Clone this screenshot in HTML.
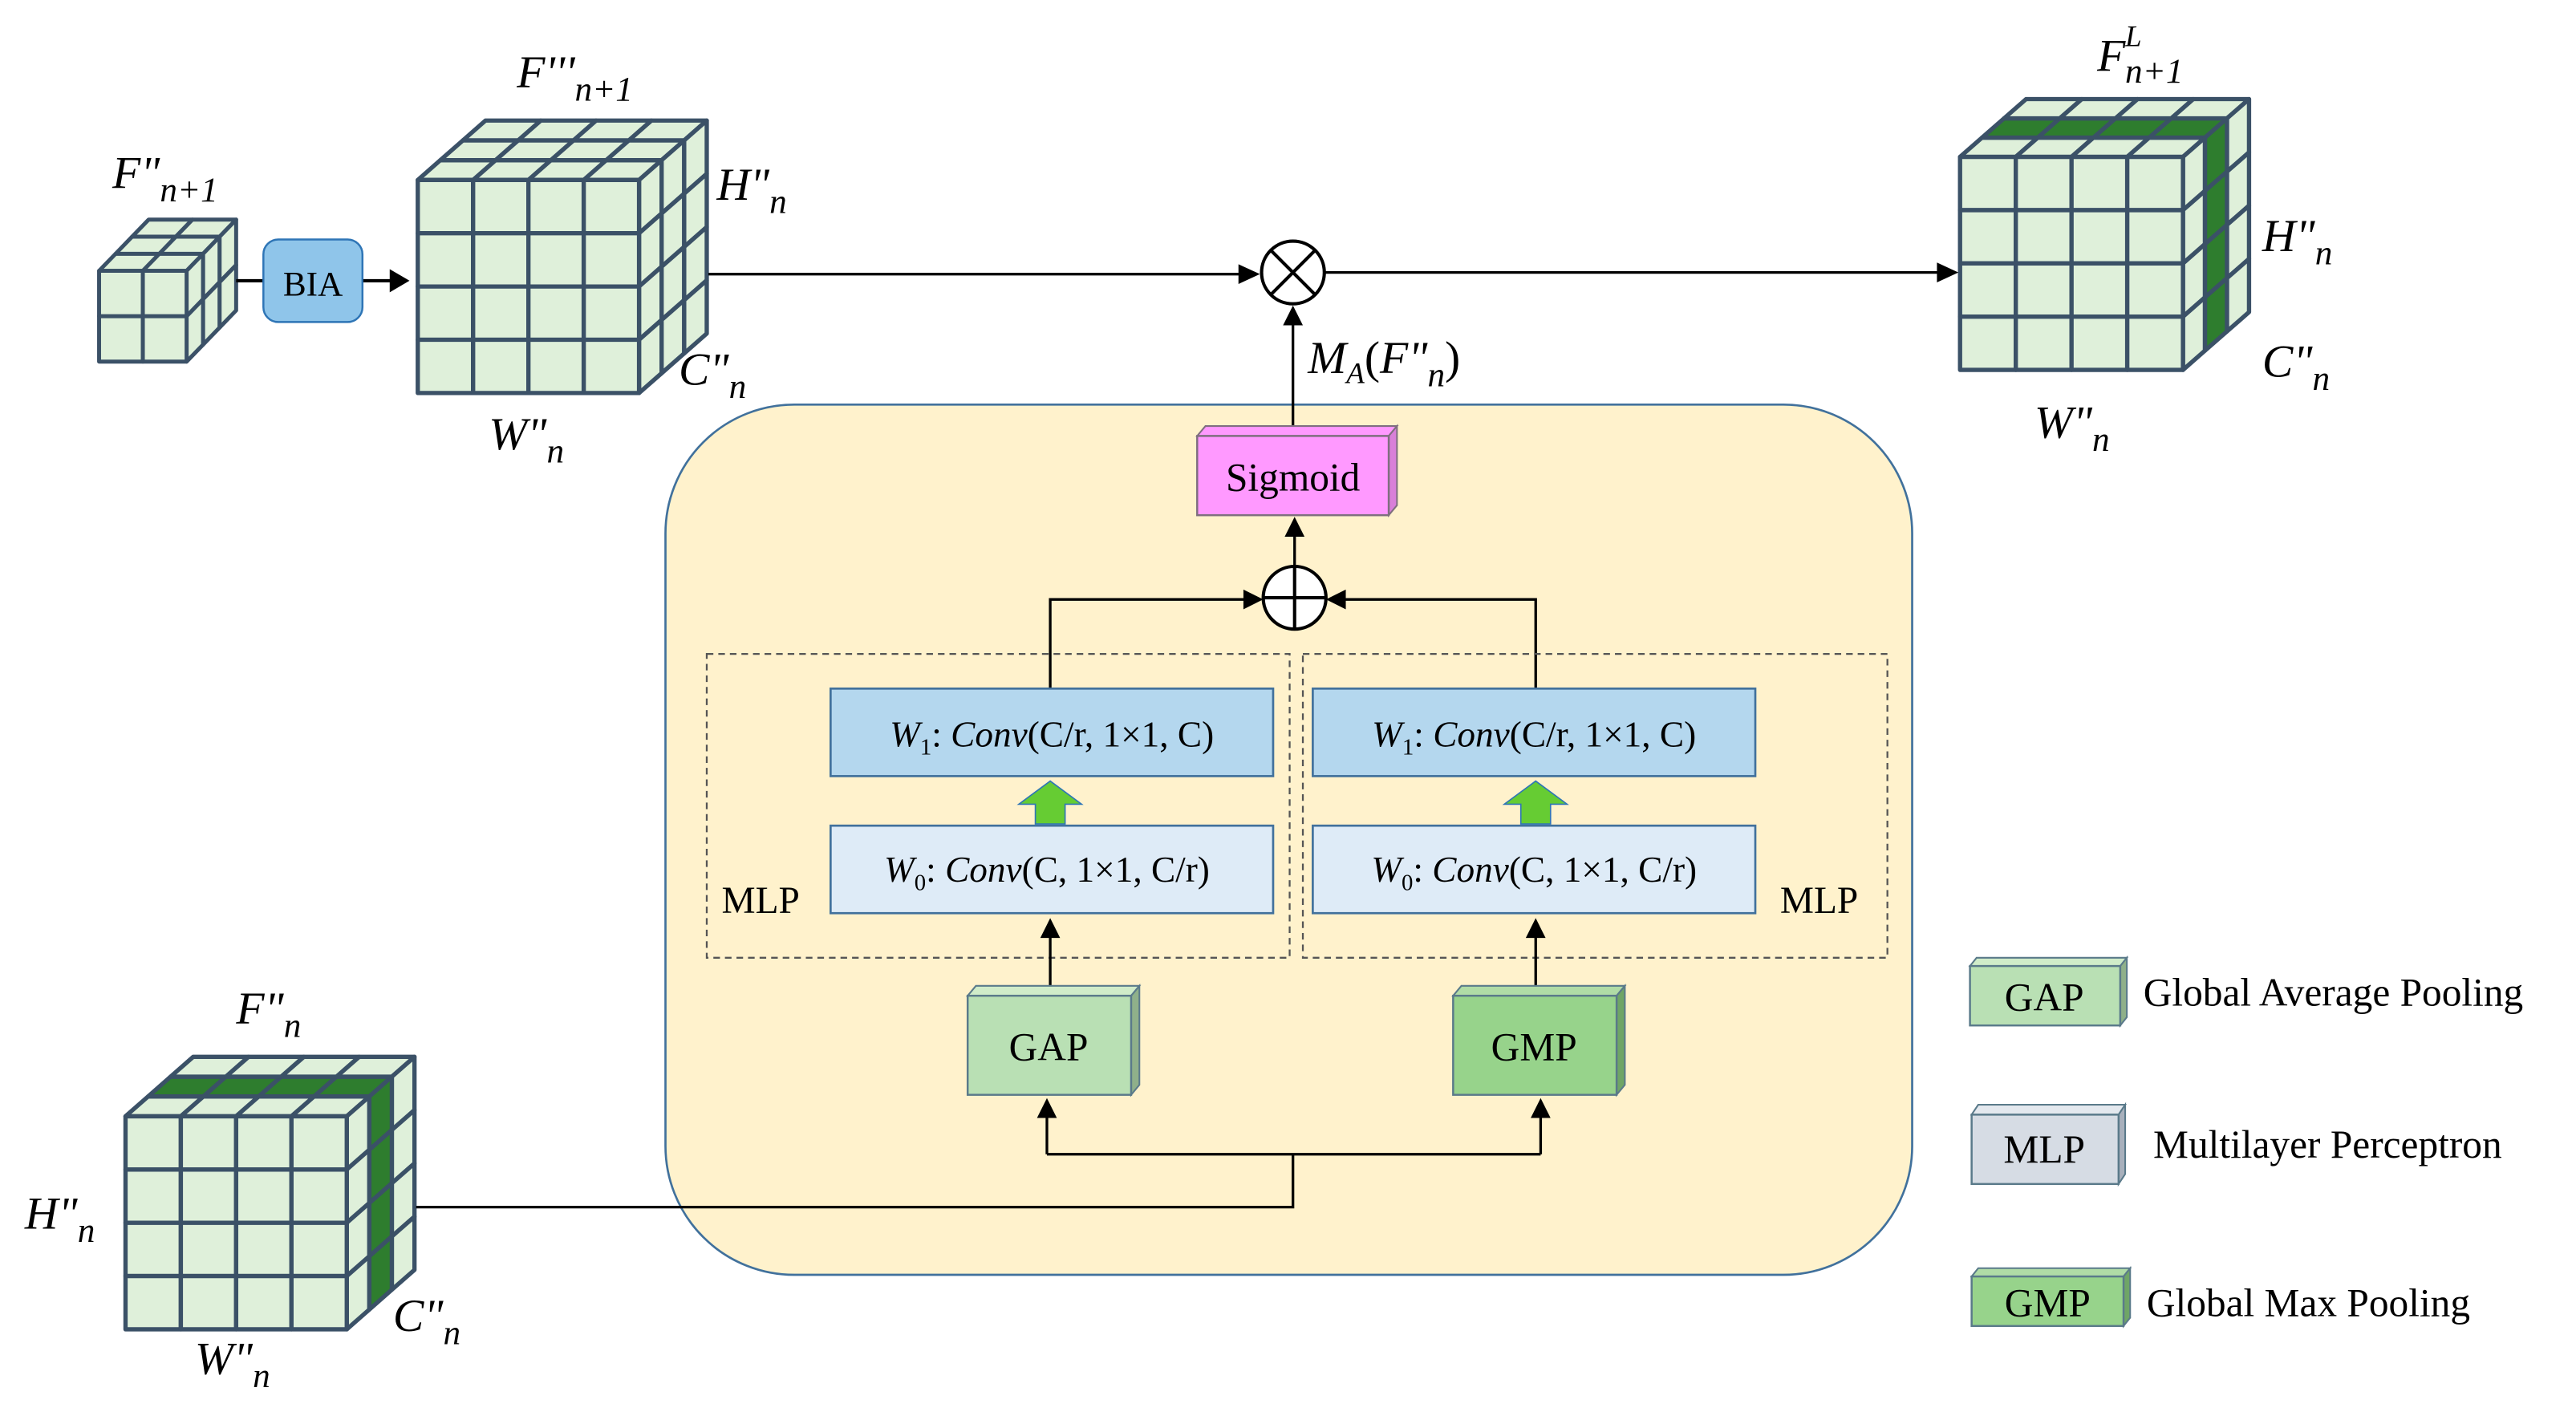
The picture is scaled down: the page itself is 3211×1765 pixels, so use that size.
<!DOCTYPE html>
<html><head><meta charset="utf-8"><style>
html,body{margin:0;padding:0;background:#fff;}
svg{display:block;}
svg, svg text, svg tspan{font-family:"Liberation Serif","Times New Roman","DejaVu Serif",serif;}
text{fill:#000;}
.it{font-style:italic;}
</style></head><body>
<svg id="s" width="3211" height="1765" viewBox="0 0 1560 857.5" xmlns="http://www.w3.org/2000/svg" font-family="Liberation Serif, Times New Roman, DejaVu Serif, serif">
<rect x="0" y="0" width="1560" height="857.5" fill="#fff"/>
<rect x="403" y="245" width="755" height="527" rx="78" fill="#fff2cc" stroke="#41719c" stroke-width="1.3"/>
<g id="cubes"></g>

<line x1="143" y1="170" x2="160" y2="170" stroke="#000" stroke-width="2"/>
<rect x="159.5" y="145" width="60" height="50" rx="9" fill="#8fc5ea" stroke="#2e75b6" stroke-width="1.2"/>
<text x="189.5" y="179" font-size="21" text-anchor="middle">BIA</text>
<line x1="220" y1="170" x2="238" y2="170" stroke="#000" stroke-width="2"/>
<polygon points="248,170 236,163 236,177" fill="#000"/>
<line x1="429" y1="166" x2="752" y2="166" stroke="#000" stroke-width="1.6"/>
<polygon points="763,166 750,160 750,172" fill="#000"/>
<circle cx="783" cy="165" r="19" fill="#fff" stroke="#000" stroke-width="2"/>
<line x1="769.5" y1="151.5" x2="796.5" y2="178.5" stroke="#000" stroke-width="2"/>
<line x1="796.5" y1="151.5" x2="769.5" y2="178.5" stroke="#000" stroke-width="2"/>
<line x1="802" y1="165" x2="1175" y2="165" stroke="#000" stroke-width="1.6"/>
<polygon points="1186,165 1173,159 1173,171" fill="#000"/>
<line x1="783" y1="258" x2="783" y2="195" stroke="#000" stroke-width="1.6"/>
<polygon points="783,185 777,197 789,197" fill="#000"/>
<polygon points="725,264 730,258 846,258 841,264" fill="#ff99ff" stroke="#7f6f7f" stroke-width="1"/>
<polygon points="841,264 846,258 846,306 841,312" fill="#d97fd9" stroke="#7f6f7f" stroke-width="1"/>
<rect x="725" y="264" width="116" height="48" fill="#ff99ff" stroke="#7f6f7f" stroke-width="1.2"/>
<text x="783" y="297" font-size="24" text-anchor="middle">Sigmoid</text>
<line x1="784" y1="343" x2="784" y2="322" stroke="#000" stroke-width="1.6"/>
<polygon points="784,313 778,325 790,325" fill="#000"/>
<circle cx="784" cy="362" r="19" fill="#fff" stroke="#000" stroke-width="2"/>
<line x1="765" y1="362" x2="803" y2="362" stroke="#000" stroke-width="2"/>
<line x1="784" y1="343" x2="784" y2="381" stroke="#000" stroke-width="2"/>
<polyline points="636,417 636,363 755,363" fill="none" stroke="#000" stroke-width="1.6"/>
<polygon points="765,363 753,357 753,369" fill="#000"/>
<polyline points="930,417 930,363 813,363" fill="none" stroke="#000" stroke-width="1.6"/>
<polygon points="803,363 815,357 815,369" fill="#000"/>
<rect x="428" y="396" width="353" height="184" fill="none" stroke="#555" stroke-width="1.1" stroke-dasharray="4,3"/>
<rect x="789" y="396" width="354" height="184" fill="none" stroke="#555" stroke-width="1.1" stroke-dasharray="4,3"/>
<rect x="503" y="417" width="268" height="53" fill="#b4d7ee" stroke="#41719c" stroke-width="1.3"/>
<rect x="795" y="417" width="268" height="53" fill="#b4d7ee" stroke="#41719c" stroke-width="1.3"/>
<text x="637" y="452" font-size="22" text-anchor="middle"><tspan class="it">W</tspan><tspan font-size="14" dy="5">1</tspan><tspan dy="-5">: </tspan><tspan class="it">Conv</tspan>(C/r, 1×1, C)</text>
<text x="929" y="452" font-size="22" text-anchor="middle"><tspan class="it">W</tspan><tspan font-size="14" dy="5">1</tspan><tspan dy="-5">: </tspan><tspan class="it">Conv</tspan>(C/r, 1×1, C)</text>
<rect x="503" y="500" width="268" height="53" fill="#deebf7" stroke="#41719c" stroke-width="1.3"/>
<rect x="795" y="500" width="268" height="53" fill="#deebf7" stroke="#41719c" stroke-width="1.3"/>
<text x="634" y="534" font-size="22" text-anchor="middle"><tspan class="it">W</tspan><tspan font-size="14" dy="5">0</tspan><tspan dy="-5">: </tspan><tspan class="it">Conv</tspan>(C, 1×1, C/r)</text>
<text x="929" y="534" font-size="22" text-anchor="middle"><tspan class="it">W</tspan><tspan font-size="14" dy="5">0</tspan><tspan dy="-5">: </tspan><tspan class="it">Conv</tspan>(C, 1×1, C/r)</text>
<polygon points="636,473 617,487 627,487 627,499 645,499 645,487 655,487" fill="#66cc33" stroke="#2e75b6" stroke-width="0.8"/>
<polygon points="930,473 911,487 921,487 921,499 939,499 939,487 949,487" fill="#66cc33" stroke="#2e75b6" stroke-width="0.8"/>
<text x="437" y="553" font-size="23">MLP</text>
<text x="1078" y="553" font-size="23">MLP</text>
<line x1="636" y1="600" x2="636" y2="566" stroke="#000" stroke-width="1.6"/>
<polygon points="636,556 630,568 642,568" fill="#000"/>
<line x1="930" y1="600" x2="930" y2="566" stroke="#000" stroke-width="1.6"/>
<polygon points="930,556 924,568 936,568" fill="#000"/>
<polygon points="586,603 591,597 690,597 685,603" fill="#d0ecc9" stroke="#5a7a8a" stroke-width="1"/>
<polygon points="685,603 690,597 690,657 685,663" fill="#8fb08a" stroke="#5a7a8a" stroke-width="1"/>
<rect x="586" y="603" width="99" height="60" fill="#b9e0b4" stroke="#5a7a8a" stroke-width="1.2"/>
<text x="635" y="642" font-size="24" text-anchor="middle">GAP</text>
<polygon points="880,603 885,597 984,597 979,603" fill="#b0dca6" stroke="#5a7a8a" stroke-width="1"/>
<polygon points="979,603 984,597 984,657 979,663" fill="#6fa566" stroke="#5a7a8a" stroke-width="1"/>
<rect x="880" y="603" width="99" height="60" fill="#97d38b" stroke="#5a7a8a" stroke-width="1.2"/>
<text x="929" y="642" font-size="24" text-anchor="middle">GMP</text>
<polyline points="252,731 783,731 783,699" fill="none" stroke="#000" stroke-width="1.6"/>
<line x1="634" y1="699" x2="933" y2="699" stroke="#000" stroke-width="1.6"/>
<line x1="634" y1="699" x2="634" y2="676" stroke="#000" stroke-width="1.6"/>
<line x1="933" y1="699" x2="933" y2="676" stroke="#000" stroke-width="1.6"/>
<polygon points="634,665 628,677 640,677" fill="#000"/>
<polygon points="933,665 927,677 939,677" fill="#000"/>
<polygon points="1193,585 1197,580 1288,580 1284,585" fill="#d0ecc9" stroke="#5a7a8a" stroke-width="1"/>
<polygon points="1284,585 1288,580 1288,616 1284,621" fill="#8fb08a" stroke="#5a7a8a" stroke-width="1"/>
<rect x="1193" y="585" width="91" height="36" fill="#b9e0b4" stroke="#5a7a8a" stroke-width="1.2"/>
<text x="1238" y="612" font-size="24" text-anchor="middle">GAP</text>
<text x="1298" y="609" font-size="24">Global Average Pooling</text>
<polygon points="1194,675 1198,669 1287,669 1283,675" fill="#e3e8ee" stroke="#5a7a8a" stroke-width="1"/>
<polygon points="1283,675 1287,669 1287,711 1283,717" fill="#a8b0bc" stroke="#5a7a8a" stroke-width="1"/>
<rect x="1194" y="675" width="89" height="42" fill="#d6dce4" stroke="#5a7a8a" stroke-width="1.2"/>
<text x="1238" y="704" font-size="24" text-anchor="middle">MLP</text>
<text x="1304" y="701" font-size="24">Multilayer Perceptron</text>
<polygon points="1194,773 1198,768 1290,768 1286,773" fill="#b0dca6" stroke="#5a7a8a" stroke-width="1"/>
<polygon points="1286,773 1290,768 1290,798 1286,803" fill="#6fa566" stroke="#5a7a8a" stroke-width="1"/>
<rect x="1194" y="773" width="92" height="30" fill="#97d38b" stroke="#5a7a8a" stroke-width="1.2"/>
<text x="1240" y="797" font-size="24" text-anchor="middle">GMP</text>
<text x="1300" y="797" font-size="24">Global Max Pooling</text>

<g font-size="28">
<text x="68" y="114" class="it">F"<tspan font-size="21" dy="8">n+1</tspan></text>
<text x="313" y="53" class="it">F'''<tspan font-size="21" dy="8">n+1</tspan></text>
<text x="434" y="121" class="it">H"<tspan font-size="21" dy="8">n</tspan></text>
<text x="411" y="233" class="it">C"<tspan font-size="21" dy="8">n</tspan></text>
<text x="296" y="272" class="it">W"<tspan font-size="21" dy="8">n</tspan></text>
<text x="1270" y="43" class="it">F</text>
<text x="1287" y="28" font-size="18" class="it">L</text>
<text x="1287" y="50" font-size="21" class="it">n+1</text>
<text x="1370" y="152" class="it">H"<tspan font-size="21" dy="8">n</tspan></text>
<text x="1370" y="228" class="it">C"<tspan font-size="21" dy="8">n</tspan></text>
<text x="1232" y="265" class="it">W"<tspan font-size="21" dy="8">n</tspan></text>
<text x="792" y="226" class="it">M<tspan font-size="18" dy="6">A</tspan><tspan dy="-6" font-style="normal">(</tspan>F"<tspan font-size="21" dy="8">n</tspan><tspan dy="-8" font-style="normal">)</tspan></text>
<text x="143" y="620" class="it">F"<tspan font-size="21" dy="8">n</tspan></text>
<text x="15" y="744" class="it">H"<tspan font-size="21" dy="8">n</tspan></text>
<text x="238" y="806" class="it">C"<tspan font-size="21" dy="8">n</tspan></text>
<text x="118" y="832" class="it">W"<tspan font-size="21" dy="8">n</tspan></text>
</g>
</svg>
<script>
(function(){
var NS="http://www.w3.org/2000/svg",g=document.getElementById("cubes");
var LF="#dff0da",GR="#2e7d2e",ST="#3b5167";
function poly(pts,fill,sw){var p=document.createElementNS(NS,"polygon");p.setAttribute("points",pts.map(function(a){return a[0].toFixed(2)+","+a[1].toFixed(2)}).join(" "));p.setAttribute("fill",fill);p.setAttribute("stroke",ST);p.setAttribute("stroke-width",sw);p.setAttribute("stroke-linejoin","round");g.appendChild(p);}
function cube(x,y,w,h,cols,rows,dep,dx,dy,green,sw){
 var cw=w/cols,rh=h/rows,ex=dx/dep,ey=dy/dep;
 function P(c,d){return [x+c*cw+d*ex,y-d*ey];}
 function Q(r,d){return [x+w+d*ex,y+r*rh-d*ey];}
 for(var d=0;d<dep;d++)for(var c=0;c<cols;c++)poly([P(c,d),P(c+1,d),P(c+1,d+1),P(c,d+1)],(green&&d==1)?GR:LF,sw);
 for(var d=0;d<dep;d++)for(var r=0;r<rows;r++)poly([Q(r,d),Q(r,d+1),Q(r+1,d+1),Q(r+1,d)],(green&&d==1)?GR:LF,sw);
 for(var r=0;r<rows;r++)for(var c=0;c<cols;c++)poly([[x+c*cw,y+r*rh],[x+(c+1)*cw,y+r*rh],[x+(c+1)*cw,y+(r+1)*rh],[x+c*cw,y+(r+1)*rh]],LF,sw);
}
cube(60,164,53,55,2,2,3,30,31,false,2.4);
cube(253,109,134,129,4,4,3,41,36,false,2.6);
cube(1187,95,135,129,4,4,3,40,35,true,2.6);
cube(76,676,134,129,4,4,3,41,36,true,2.6);
})();
</script>
</body></html>
